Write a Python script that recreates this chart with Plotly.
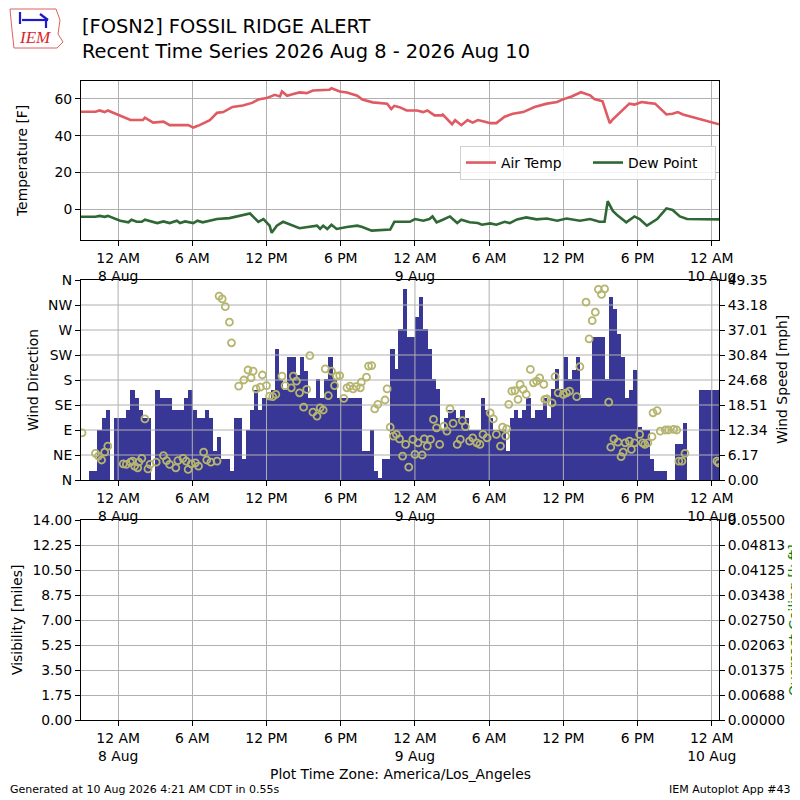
import numpy as np
import pandas as pd
import plotly.graph_objects as go

# ---- shared time axis ----
x_start = "2026-08-07 21:00"
x_end = "2026-08-10 00:35"
tick_times = ["2026-08-08 00:00", "2026-08-08 06:00", "2026-08-08 12:00", "2026-08-08 18:00",
              "2026-08-09 00:00", "2026-08-09 06:00", "2026-08-09 12:00", "2026-08-09 18:00",
              "2026-08-10 00:00"]
tick_labels = ["12 AM<br>8 Aug", "6 AM", "12 PM", "6 PM", "12 AM<br>9 Aug",
               "6 AM", "12 PM", "6 PM", "12 AM<br>10 Aug"]

# ---- air temperature [F] ----
temp_times = [
    "2026-08-07 21:00", "2026-08-07 22:10", "2026-08-07 22:30", "2026-08-07 22:55", "2026-08-07 23:10",
    "2026-08-07 23:55", "2026-08-08 00:25", "2026-08-08 01:00", "2026-08-08 02:00", "2026-08-08 02:10",
    "2026-08-08 02:50", "2026-08-08 03:40", "2026-08-08 04:10", "2026-08-08 05:40", "2026-08-08 06:05",
    "2026-08-08 06:35", "2026-08-08 07:25", "2026-08-08 08:00", "2026-08-08 08:30", "2026-08-08 09:15",
    "2026-08-08 10:05", "2026-08-08 10:50", "2026-08-08 11:20", "2026-08-08 12:00", "2026-08-08 12:40",
    "2026-08-08 13:05", "2026-08-08 13:15", "2026-08-08 13:40", "2026-08-08 14:10", "2026-08-08 14:40",
    "2026-08-08 15:15", "2026-08-08 15:45", "2026-08-08 17:05", "2026-08-08 17:15", "2026-08-08 17:55",
    "2026-08-08 18:30", "2026-08-08 19:20", "2026-08-08 19:45", "2026-08-08 20:35", "2026-08-08 21:45",
    "2026-08-08 22:05", "2026-08-08 22:20", "2026-08-08 22:45", "2026-08-08 23:20", "2026-08-09 00:10",
    "2026-08-09 00:40", "2026-08-09 01:00", "2026-08-09 01:35", "2026-08-09 02:10", "2026-08-09 02:15",
    "2026-08-09 03:00", "2026-08-09 03:15", "2026-08-09 03:45", "2026-08-09 04:15", "2026-08-09 04:40",
    "2026-08-09 05:05", "2026-08-09 05:40", "2026-08-09 06:05", "2026-08-09 06:35", "2026-08-09 07:15",
    "2026-08-09 07:55", "2026-08-09 08:45", "2026-08-09 09:40", "2026-08-09 10:40", "2026-08-09 11:30",
    "2026-08-09 11:55", "2026-08-09 12:40", "2026-08-09 13:25", "2026-08-09 14:10", "2026-08-09 14:30",
    "2026-08-09 15:10", "2026-08-09 15:30", "2026-08-09 15:45", "2026-08-09 16:00", "2026-08-09 16:50",
    "2026-08-09 17:20", "2026-08-09 17:45", "2026-08-09 18:20", "2026-08-09 18:50", "2026-08-09 19:25",
    "2026-08-09 20:20", "2026-08-09 20:50", "2026-08-09 21:15", "2026-08-09 21:40", "2026-08-10 00:35"]
air_temp = [
    53.0, 53.0, 53.7, 52.8, 53.7, 51.5, 49.8, 48.5, 48.5, 49.8,
    47.1, 47.6, 45.7, 45.7, 44.4, 45.7, 48.4, 52.4, 52.8, 55.6,
    56.4, 57.8, 59.6, 60.4, 62.2, 61.3, 64.0, 61.7, 62.6, 63.5,
    63.1, 64.5, 64.9, 65.8, 64.0, 63.5, 61.7, 59.6, 58.1, 57.4,
    54.5, 56.2, 55.5, 53.7, 53.7, 52.8, 53.7, 51.0, 51.0, 51.5,
    46.2, 48.4, 45.7, 48.5, 47.1, 48.5, 47.6, 46.8, 46.8, 50.3,
    51.9, 52.8, 55.6, 57.4, 58.3, 59.6, 61.3, 63.6, 61.9, 59.9,
    58.7, 52.4, 46.8, 48.9, 54.2, 57.4, 56.9, 58.3, 57.8, 57.4,
    51.5, 51.9, 52.8, 51.5, 46.2]

# ---- dew point [F] ----
dew_times = [
    "2026-08-07 21:00", "2026-08-07 22:10", "2026-08-07 22:30", "2026-08-07 22:55", "2026-08-07 23:10",
    "2026-08-08 00:10", "2026-08-08 00:50", "2026-08-08 01:05", "2026-08-08 01:30", "2026-08-08 01:55",
    "2026-08-08 02:10", "2026-08-08 03:10", "2026-08-08 03:40", "2026-08-08 04:10", "2026-08-08 04:45",
    "2026-08-08 05:00", "2026-08-08 05:25", "2026-08-08 06:05", "2026-08-08 06:25", "2026-08-08 06:50",
    "2026-08-08 08:00", "2026-08-08 09:00", "2026-08-08 10:40", "2026-08-08 11:05", "2026-08-08 11:20",
    "2026-08-08 11:45", "2026-08-08 12:15", "2026-08-08 12:25", "2026-08-08 12:50", "2026-08-08 13:20",
    "2026-08-08 13:45", "2026-08-08 14:40", "2026-08-08 16:05", "2026-08-08 16:20", "2026-08-08 16:35",
    "2026-08-08 16:55", "2026-08-08 17:15", "2026-08-08 17:40", "2026-08-08 18:30", "2026-08-08 19:20",
    "2026-08-08 19:45", "2026-08-08 20:30", "2026-08-08 22:00", "2026-08-08 22:20", "2026-08-08 23:35",
    "2026-08-09 00:00", "2026-08-09 00:40", "2026-08-09 01:10", "2026-08-09 01:25", "2026-08-09 01:45",
    "2026-08-09 02:15", "2026-08-09 02:50", "2026-08-09 03:25", "2026-08-09 03:45", "2026-08-09 04:25",
    "2026-08-09 05:05", "2026-08-09 05:25", "2026-08-09 06:05", "2026-08-09 06:35", "2026-08-09 07:15",
    "2026-08-09 07:40", "2026-08-09 08:15", "2026-08-09 09:00", "2026-08-09 09:50", "2026-08-09 10:40",
    "2026-08-09 11:30", "2026-08-09 12:15", "2026-08-09 13:20", "2026-08-09 14:10", "2026-08-09 14:55",
    "2026-08-09 15:20", "2026-08-09 15:35", "2026-08-09 16:00", "2026-08-09 16:25", "2026-08-09 17:05",
    "2026-08-09 17:45", "2026-08-09 18:10", "2026-08-09 18:45", "2026-08-09 19:35", "2026-08-09 20:20",
    "2026-08-09 20:50", "2026-08-09 21:25", "2026-08-09 22:00", "2026-08-10 00:35"]
dew_point = [
    -4.1, -4.1, -3.6, -4.1, -3.6, -6.2, -7.1, -5.7, -6.8, -6.8,
    -5.7, -7.5, -6.6, -7.5, -6.2, -7.5, -6.6, -7.5, -6.2, -7.1,
    -5.3, -4.8, -2.3, -5.0, -6.8, -5.3, -8.9, -12.8, -8.9, -6.8,
    -8.0, -10.3, -8.9, -10.7, -8.9, -10.7, -8.4, -10.7, -9.6, -8.9,
    -9.6, -11.6, -11.0, -6.8, -6.8, -5.3, -6.2, -5.3, -3.9, -7.1,
    -5.7, -3.9, -7.5, -5.7, -7.1, -7.5, -8.4, -7.7, -8.4, -6.8,
    -7.5, -5.5, -4.4, -5.5, -5.0, -6.2, -5.0, -6.2, -5.3, -6.8,
    -6.8, 4.4, -0.9, -3.6, -7.1, -3.9, -5.3, -8.9, -5.3, 0.5,
    -0.4, -3.9, -5.3, -5.5]

# ---- wind speed [mph], 20 minute bins starting at x_start ----
wind_speed = [
    0, 0, 2.2, 2.2, 12.3, 15.3, 17.3, 0, 15.3, 15.3,
    15.3, 17.3, 22.2, 20.2, 17.3, 15.3, 15.3, 0, 22.2, 20.2,
    20.2, 20.2, 17.3, 17.3, 17.3, 20.2, 22.2, 17.3, 15.3, 15.3,
    17.3, 15.3, 7.1, 10.5, 5.2, 5.2, 2.2, 15.3, 15.3, 5.2,
    12.3, 17.3, 22.2, 17.3, 20.2, 20.2, 22.2, 32.3, 24.9, 22.2,
    30.3, 30.3, 26.0, 30.3, 27.0, 20.2, 20.2, 24.9, 20.2, 24.9,
    30.3, 24.9, 20.2, 20.2, 20.2, 20.2, 20.2, 20.2, 7.1, 7.1,
    12.3, 2.2, 0.5, 5.2, 5.2, 32.3, 27.4, 37.3, 47.1, 35.2,
    35.2, 40.1, 45.1, 37.3, 32.3, 24.9, 22.4, 12.5, 15.3, 17.3,
    17.3, 15.3, 17.3, 15.3, 12.3, 12.3, 12.3, 20.2, 17.3, 15.3,
    12.3, 12.3, 12.3, 7.2, 15.4, 17.3, 15.4, 17.3, 20.3, 15.4,
    17.3, 17.3, 20.3, 15.4, 22.5, 27.3, 22.5, 30.3, 25.0, 27.2,
    30.3, 20.2, 20.2, 20.2, 35.2, 35.2, 35.2, 24.9, 45.1, 42.2,
    36.0, 30.3, 20.2, 22.2, 27.2, 13.0, 12.3, 12.3, 5.2, 2.2,
    2.2, 2.2, 0, 0, 9.0, 9.0, 14.0, 0, 0, 0,
    22.2, 22.2, 22.2, 22.2, 22.2]
speed_times = pd.date_range(x_start, periods=len(wind_speed), freq="20min")

# ---- wind direction [deg] ----
dir_times = [
    "2026-08-07 21:05", "2026-08-07 22:10", "2026-08-07 22:25", "2026-08-07 22:40", "2026-08-07 22:55",
    "2026-08-07 23:10", "2026-08-08 00:25", "2026-08-08 00:40", "2026-08-08 01:00", "2026-08-08 01:10",
    "2026-08-08 01:20", "2026-08-08 01:35", "2026-08-08 01:40", "2026-08-08 01:55", "2026-08-08 02:10",
    "2026-08-08 02:25", "2026-08-08 02:35", "2026-08-08 03:05", "2026-08-08 03:40", "2026-08-08 03:55",
    "2026-08-08 04:10", "2026-08-08 04:40", "2026-08-08 04:50", "2026-08-08 05:15", "2026-08-08 05:30",
    "2026-08-08 05:40", "2026-08-08 05:55", "2026-08-08 06:15", "2026-08-08 06:30", "2026-08-08 06:55",
    "2026-08-08 07:10", "2026-08-08 07:30", "2026-08-08 08:00", "2026-08-08 08:10", "2026-08-08 08:25",
    "2026-08-08 08:40", "2026-08-08 09:00", "2026-08-08 09:10", "2026-08-08 09:45", "2026-08-08 10:10",
    "2026-08-08 10:30", "2026-08-08 10:45", "2026-08-08 10:55", "2026-08-08 11:10", "2026-08-08 11:30",
    "2026-08-08 11:40", "2026-08-08 12:00", "2026-08-08 12:15", "2026-08-08 12:30", "2026-08-08 12:45",
    "2026-08-08 13:15", "2026-08-08 13:30", "2026-08-08 14:00", "2026-08-08 14:10", "2026-08-08 14:25",
    "2026-08-08 14:40", "2026-08-08 15:00", "2026-08-08 15:15", "2026-08-08 15:30", "2026-08-08 15:45",
    "2026-08-08 16:05", "2026-08-08 16:20", "2026-08-08 16:35", "2026-08-08 16:45", "2026-08-08 17:00",
    "2026-08-08 17:15", "2026-08-08 17:30", "2026-08-08 17:40", "2026-08-08 17:55", "2026-08-08 18:15",
    "2026-08-08 18:30", "2026-08-08 18:45", "2026-08-08 19:00", "2026-08-08 19:15", "2026-08-08 19:35",
    "2026-08-08 19:40", "2026-08-08 20:05", "2026-08-08 20:15", "2026-08-08 20:30", "2026-08-08 20:45",
    "2026-08-08 21:00", "2026-08-08 21:35", "2026-08-08 21:45", "2026-08-08 22:00", "2026-08-08 22:15",
    "2026-08-08 22:30", "2026-08-08 22:45", "2026-08-08 23:00", "2026-08-08 23:15", "2026-08-08 23:30",
    "2026-08-08 23:50", "2026-08-09 00:00", "2026-08-09 00:15", "2026-08-09 00:35", "2026-08-09 00:45",
    "2026-08-09 01:00", "2026-08-09 01:15", "2026-08-09 01:30", "2026-08-09 01:45", "2026-08-09 02:00",
    "2026-08-09 02:20", "2026-08-09 02:35", "2026-08-09 02:50", "2026-08-09 03:05", "2026-08-09 03:25",
    "2026-08-09 03:40", "2026-08-09 03:50", "2026-08-09 04:05", "2026-08-09 04:25", "2026-08-09 04:40",
    "2026-08-09 05:00", "2026-08-09 05:15", "2026-08-09 05:30", "2026-08-09 05:50", "2026-08-09 06:05",
    "2026-08-09 06:20", "2026-08-09 06:35", "2026-08-09 06:55", "2026-08-09 07:05", "2026-08-09 07:20",
    "2026-08-09 07:25", "2026-08-09 07:35", "2026-08-09 07:50", "2026-08-09 08:05", "2026-08-09 08:20",
    "2026-08-09 08:30", "2026-08-09 08:45", "2026-08-09 09:00", "2026-08-09 09:20", "2026-08-09 09:35",
    "2026-08-09 09:50", "2026-08-09 10:05", "2026-08-09 10:25", "2026-08-09 10:30", "2026-08-09 10:40",
    "2026-08-09 11:05", "2026-08-09 11:20", "2026-08-09 11:35", "2026-08-09 12:00", "2026-08-09 12:15",
    "2026-08-09 12:30", "2026-08-09 13:05", "2026-08-09 13:20", "2026-08-09 13:50", "2026-08-09 14:05",
    "2026-08-09 14:20", "2026-08-09 14:35", "2026-08-09 14:50", "2026-08-09 15:05", "2026-08-09 15:20",
    "2026-08-09 15:40", "2026-08-09 15:50", "2026-08-09 16:05", "2026-08-09 16:25", "2026-08-09 16:40",
    "2026-08-09 16:50", "2026-08-09 17:00", "2026-08-09 17:20", "2026-08-09 17:30", "2026-08-09 17:45",
    "2026-08-09 18:10", "2026-08-09 18:25", "2026-08-09 18:35", "2026-08-09 18:50", "2026-08-09 19:10",
    "2026-08-09 19:15", "2026-08-09 19:35", "2026-08-09 19:50", "2026-08-09 20:15", "2026-08-09 20:30",
    "2026-08-09 20:55", "2026-08-09 21:10", "2026-08-09 21:20", "2026-08-09 21:35", "2026-08-09 21:50",
    "2026-08-10 00:25", "2026-08-10 00:33"]
wind_dir = [
    85, 48, 43, 36, 50, 61, 29, 28, 32, 34,
    25, 22, 32, 39, 110, 20, 28, 32, 44, 35,
    28, 22, 35, 39, 34, 19, 29, 31, 25, 50,
    36, 32, 34, 331, 326, 312, 284, 247, 169, 180,
    198, 184, 196, 164, 167, 189, 170, 151, 150, 154,
    187, 170, 166, 187, 178, 157, 131, 163, 224, 122,
    115, 130, 126, 200, 152, 196, 170, 187, 188, 147,
    166, 169, 164, 168, 166, 176, 185, 205, 206, 128,
    136, 144, 164, 95, 79, 82, 74, 43, 64, 23,
    73, 46, 67, 45, 74, 61, 73, 109, 94, 64,
    97, 88, 128, 102, 64, 73, 107, 96, 70, 76,
    67, 64, 82, 76, 121, 110, 82, 61, 95, 79,
    92, 136, 160, 161, 145, 172, 163, 154, 199, 175,
    178, 184, 172, 145, 146, 139, 186, 157, 154, 157,
    160, 150, 204, 320, 254, 287, 302, 343, 334, 344,
    140, 59, 74, 68, 42, 50, 67, 70, 55, 67,
    82, 67, 64, 67, 78, 121, 125, 88, 90, 90,
    91, 90, 34, 34, 48, 34, 31]

dir_ticks = [0, 45, 90, 135, 180, 225, 270, 315, 360]
dir_labels = ["N", "NE", "E", "SE", "S", "SW", "W", "NW", "N"]
speed_max = 49.35
vis_max = 14.0
ceiling_max = 0.055

# ---- styling ----
FONT = "DejaVu Sans"
FS = 13.9
GRID = "#b0b0b0"
# the page body has an 8px margin, so the figure is 792px and placed at (8, 8)
W = 792
OFF = 8


def px(v):
    return (v - OFF) / W


def py(v):
    return 1 - (v - OFF) / W


XDOM = [px(81), px(719)]


def time_axis(anchor, grid=True):
    return dict(type="date", range=[x_start, x_end], domain=XDOM, anchor=anchor,
                tickmode="array", tickvals=tick_times, ticktext=tick_labels,
                showgrid=grid, gridcolor=GRID, gridwidth=1, zeroline=False,
                showline=True, linecolor="black", linewidth=1, mirror=True,
                ticks="outside", ticklen=5, tickcolor="black", automargin=False,
                tickfont=dict(family=FONT, size=FS, color="black"))


def value_axis(anchor, rng, tickvals, ticktext, side="left", grid=True, overlaying=None, domain=None):
    ax = dict(range=rng, anchor=anchor, side=side, tickmode="array",
              tickvals=tickvals, ticktext=ticktext, showgrid=grid, gridcolor=GRID,
              gridwidth=1, zeroline=False, showline=True, linecolor="black", linewidth=1,
              ticks="outside", ticklen=5, tickcolor="black", automargin=False,
              tickfont=dict(family=FONT, size=FS, color="black"))
    if overlaying:
        ax["overlaying"] = overlaying
    if domain:
        ax["domain"] = domain
    return ax


fig = go.Figure()

# panel 1: temperatures
fig.add_trace(go.Scatter(x=temp_times, y=air_temp, mode="lines", name="Air Temp",
                         line=dict(color="#e05a62", width=2.6), xaxis="x", yaxis="y"))
fig.add_trace(go.Scatter(x=dew_times, y=dew_point, mode="lines", name="Dew Point",
                         line=dict(color="#2f6834", width=2.6), xaxis="x", yaxis="y"))

# panel 2: wind speed bars (base axis) + direction circles (overlay axis)
# bars a touch wider than the bin so neighbours overlap and no seams show
fig.add_trace(go.Bar(x=speed_times, y=wind_speed, width=21 * 60 * 1000, offset=0,
                     marker=dict(color="#383796", line=dict(width=0)),
                     showlegend=False, xaxis="x2", yaxis="y2"))

# grid for panel 2 drawn over the bars, like the reference
gx, gy = [], []
for d in dir_ticks[1:-1]:
    gx += [x_start, x_end, None]
    gy += [d, d, None]
for t in tick_times:
    gx += [t, t, None]
    gy += [0, 360, None]
fig.add_trace(go.Scatter(x=gx, y=gy, mode="lines", line=dict(color=GRID, width=1),
                         hoverinfo="skip", showlegend=False, xaxis="x2", yaxis="y3"))

fig.add_trace(go.Scatter(x=dir_times, y=wind_dir, mode="markers", showlegend=False,
                         marker=dict(symbol="circle-open", size=7, color="#b6b56f",
                                     line=dict(width=1.8, color="#b6b56f")),
                         xaxis="x2", yaxis="y3"))

# panel 3: no visibility / ceiling data in this window
fig.add_trace(go.Scatter(x=[], y=[], mode="lines", showlegend=False, xaxis="x3", yaxis="y4"))
fig.add_trace(go.Scatter(x=[], y=[], mode="lines", showlegend=False, xaxis="x3", yaxis="y5"))

speed_ticks = np.linspace(0, speed_max, 9)
vis_ticks = np.linspace(0, vis_max, 9)
ceil_ticks = np.linspace(0, ceiling_max, 9)

fig.update_layout(
    width=W, height=W,
    margin=dict(l=0, r=0, t=0, b=0),
    paper_bgcolor="white", plot_bgcolor="white",
    font=dict(family=FONT, size=FS, color="black"),
    xaxis=time_axis("y"),
    yaxis=value_axis("x", [-16.7, 69.7], [0, 20, 40, 60], ["0", "20", "40", "60"],
                     domain=[py(240), py(81)]),
    xaxis2=time_axis("y2", grid=False),
    yaxis2=value_axis("x2", [0, speed_max], list(speed_ticks),
                      [f"{v:.2f}" for v in speed_ticks], side="right", grid=False,
                      domain=[py(480), py(280)]),
    yaxis3=value_axis("x2", [0, 360], dir_ticks, dir_labels, side="left", grid=False,
                      overlaying="y2"),
    xaxis3=time_axis("y4"),
    yaxis4=value_axis("x3", [0, vis_max], list(vis_ticks), [f"{v:.2f}" for v in vis_ticks],
                      domain=[py(720), py(520)]),
    yaxis5=value_axis("x3", [0, ceiling_max], list(ceil_ticks),
                      [f"{v:.5f}" for v in ceil_ticks], side="right", grid=False,
                      overlaying="y4"),
    legend=dict(orientation="h", x=px(716), xanchor="right", y=py(146), yanchor="top",
                bgcolor="rgba(255,255,255,0.85)", bordercolor="#d0d0d0", borderwidth=1,
                font=dict(family=FONT, size=FS, color="black"), itemwidth=30,
                entrywidth=82),
    bargap=0,
    showlegend=True,
)
fig.update_layout(yaxis_mirror=True)

ann = [
    dict(x=px(80), y=py(13), xanchor="left", yanchor="top", align="left",
         text="[FOSN2] FOSSIL RIDGE ALERT<br>Recent Time Series 2026 Aug 8 - 2026 Aug 10",
         font=dict(size=19.4, family=FONT, color="black")),
    dict(x=px(22), y=py(161), text="Temperature [F]", textangle=-90),
    dict(x=px(33), y=py(380), text="Wind Direction", textangle=-90),
    dict(x=px(782), y=py(380), text="Wind Speed [mph]", textangle=-90),
    dict(x=px(17), y=py(620), text="Visibility [miles]", textangle=-90),
    # sits against the right edge, partly cut off as in the original
    dict(x=px(794), y=py(620), text="Overcast Ceiling [k ft]", textangle=-90,
         font=dict(family=FONT, size=FS, color="green")),
    dict(x=px(400), y=py(774), text="Plot Time Zone: America/Los_Angeles"),
    dict(x=px(8), y=py(789), xanchor="left", text="Generated at 10 Aug 2026 4:21 AM CDT in 0.55s",
         font=dict(family=FONT, size=11, color="black")),
    dict(x=px(793), y=py(789), xanchor="right", text="IEM Autoplot App #43",
         font=dict(family=FONT, size=11, color="black")),
    dict(x=px(35), y=py(38), text="<i>IEM</i>",
         font=dict(family="Liberation Serif", size=17, color="#d9252b")),
]
for a in ann:
    a.setdefault("xref", "paper")
    a.setdefault("yref", "paper")
    a.setdefault("xanchor", "center")
    a.setdefault("yanchor", "middle")
    a.setdefault("showarrow", False)
    a.setdefault("font", dict(family=FONT, size=FS, color="black"))
fig.update_layout(annotations=ann)

# small IEM logo: state outline and a blue station glyph
outline = [(10, 9), (56, 9), (60, 20), (58, 34), (63, 42), (57, 48), (14, 48), (12, 30)]
path = "M " + " L ".join(f"{px(a)},{py(b)}" for a, b in outline) + " Z"
fig.add_shape(type="path", xref="paper", yref="paper", path=path,
              line=dict(color="#e06060", width=1))
for (a0, b0, a1, b1) in [(22, 20, 48, 20), (20, 12, 20, 24), (40, 14, 48, 20), (46, 20, 46, 28)]:
    fig.add_shape(type="line", xref="paper", yref="paper", x0=px(a0), x1=px(a1),
                  y0=py(b0), y1=py(b1), line=dict(color="#1c1cc8", width=2.2))

fig.write_html("out.html")
